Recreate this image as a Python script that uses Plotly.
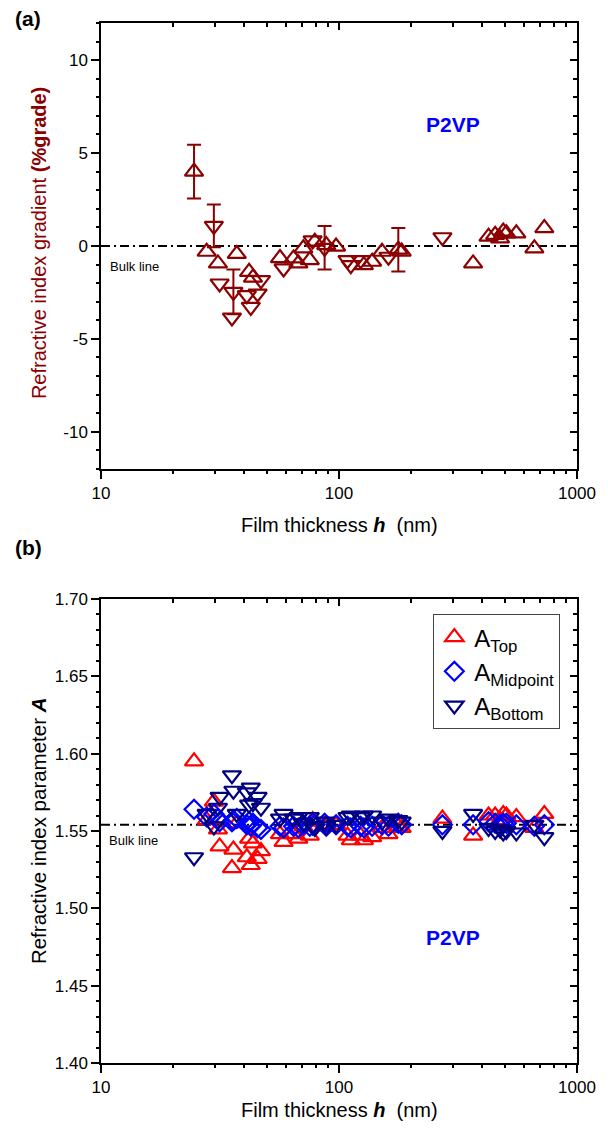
import plotly.graph_objects as go

# ---------------- data ----------------
# Panel (a): refractive index gradient (%grade) vs film thickness h (nm)
h_up = [24.6, 27.8, 31.0, 37.2, 41.9, 43.5, 56.5, 64.4, 67.5, 70.8, 75.4, 79.1, 88.4, 97.2,
        127.2, 137.8, 151.6, 177.5, 183.4, 366, 425, 453, 475, 490, 505, 556, 662, 729]
g_up = [4.0, -0.31, -0.94, -0.43, -1.39, -1.7, -0.65, -0.67, -0.94, -0.13, -0.76, 0.23, 0.05, -0.03,
        -1.03, -0.85, -0.31, -0.2, -0.3, -0.94, 0.5, 0.6, 0.41, 0.77, 0.68, 0.68, -0.13, 0.96]
e_up = [1.45, 0, 0, 0, 0, 0, 0, 0, 0, 0, 0, 0, 0, 0,
        0, 0, 0, 1.17, 0, 0, 0, 0, 0, 0, 0, 0, 0, 0]

h_dn = [29.8, 31.5, 35.5, 36.0, 41.0, 42.6, 45.5, 47.0, 58.5, 77.5, 87.0, 108.6, 112.1, 123.3, 161.4, 272]
g_dn = [1.08, -2.02, -3.85, -2.47, -2.65, -3.28, -2.56, -1.84, -1.21, 0.3, -0.1, -0.76, -1.03, -0.76, -0.58, 0.47]
e_dn = [1.15, 0, 0, 1.2, 0, 0, 0, 0, 0, 0, 1.17, 0, 0, 0, 0, 0]

bulk_grad = 0.0

# Panel (b): refractive index parameter A
h_all = [24.6, 27.8, 29.8, 31.0, 31.5, 35.5, 36.0, 37.2, 41.0, 41.9, 42.6, 43.5, 45.5, 47.0,
         56.5, 58.5, 64.4, 67.5, 70.8, 75.4, 77.5, 79.1, 87.0, 88.4, 97.2, 108.6, 112.1, 123.3,
         127.2, 137.8, 151.6, 161.4, 177.5, 183.4, 272, 366, 425, 453, 475, 490, 505, 556, 662, 729]
A_top = [1.595, 1.557, 1.569, 1.551, 1.540, 1.526, 1.538, 1.555, 1.533, 1.545, 1.528, 1.542, 1.532, 1.537,
         1.548, 1.543, 1.548, 1.545, 1.553, 1.547, 1.557, 1.556, 1.554, 1.553, 1.554, 1.547, 1.544, 1.547,
         1.544, 1.546, 1.552, 1.548, 1.553, 1.552, 1.558, 1.547, 1.560, 1.560, 1.557, 1.561, 1.560, 1.559,
         1.552, 1.561]
A_mid = [1.564, 1.559, 1.561, 1.558, 1.556, 1.556, 1.557, 1.558, 1.554, 1.556, 1.553, 1.555, 1.552, 1.551,
         1.553, 1.552, 1.553, 1.552, 1.554, 1.553, 1.555, 1.554, 1.555, 1.553, 1.554, 1.553, 1.552, 1.553,
         1.552, 1.553, 1.554, 1.553, 1.555, 1.554, 1.554, 1.554, 1.556, 1.555, 1.554, 1.555, 1.555, 1.554,
         1.553, 1.554]
A_bot = [1.533, 1.561, 1.553, 1.565, 1.572, 1.586, 1.576, 1.561, 1.575, 1.567, 1.578, 1.568, 1.572, 1.565,
         1.558, 1.561, 1.558, 1.559, 1.555, 1.559, 1.553, 1.552, 1.556, 1.553, 1.554, 1.559, 1.560, 1.559,
         1.560, 1.560, 1.556, 1.558, 1.557, 1.556, 1.550, 1.561, 1.552, 1.550, 1.551, 1.549, 1.550, 1.549,
         1.554, 1.546]

bulk_A = 1.554

# axis ticks
x_range_nm = [10, 1000]
x_ticks = [10, 100, 1000]
x_ticktext = ["10", "100", "1000"]
x_minor = [20, 30, 40, 50, 60, 70, 80, 90, 200, 300, 400, 500, 600, 700, 800, 900]
ya_range = [-12, 12]
ya_ticks = [-10, -5, 0, 5, 10]
ya_ticktext = ["-10", "-5", "0", "5", "10"]
ya_minor = [-12, -11, -9, -8, -7, -6, -4, -3, -2, -1, 1, 2, 3, 4, 6, 7, 8, 9, 11, 12]
yb_range = [1.40, 1.70]
yb_ticks = [1.40, 1.45, 1.50, 1.55, 1.60, 1.65, 1.70]
yb_ticktext = ["1.40", "1.45", "1.50", "1.55", "1.60", "1.65", "1.70"]
yb_minor = [1.41, 1.42, 1.43, 1.44, 1.46, 1.47, 1.48, 1.49, 1.51, 1.52, 1.53, 1.54,
            1.56, 1.57, 1.58, 1.59, 1.61, 1.62, 1.63, 1.64, 1.66, 1.67, 1.68, 1.69]

# ---------------- style ----------------
DARKRED = "#8B0000"
RED = "#FF0000"
BLUE = "#0000FF"
NAVY = "#000080"
FONT = "Arial, Liberation Sans, sans-serif"
MS = 16

fig = go.Figure()


def add_grad(hs, gs, es, symbol):
    hn = [h for h, e in zip(hs, es) if e == 0]
    gn = [g for g, e in zip(gs, es) if e == 0]
    he = [h for h, e in zip(hs, es) if e > 0]
    ge = [g for g, e in zip(gs, es) if e > 0]
    ee = [e for e in es if e > 0]
    mk = dict(symbol=symbol, size=MS, color=DARKRED, line=dict(color=DARKRED, width=2.2))
    fig.add_trace(go.Scatter(x=hn, y=gn, mode="markers", xaxis="x", yaxis="y", showlegend=False, marker=mk))
    fig.add_trace(go.Scatter(x=he, y=ge, mode="markers", xaxis="x", yaxis="y", showlegend=False, marker=mk,
                             error_y=dict(type="data", array=ee, visible=True, color=DARKRED,
                                          thickness=2, width=7)))


DASH = "9px,4px,2px,4px"
# bulk line (a)
fig.add_trace(go.Scatter(x=x_range_nm, y=[bulk_grad, bulk_grad], mode="lines", xaxis="x", yaxis="y",
                         showlegend=False, line=dict(color="black", width=2, dash=DASH)))
add_grad(h_up, g_up, e_up, "triangle-up-open")
add_grad(h_dn, g_dn, e_dn, "triangle-down-open")

# bulk line (b)
fig.add_trace(go.Scatter(x=x_range_nm, y=[bulk_A, bulk_A], mode="lines", xaxis="x2", yaxis="y2",
                         showlegend=False, line=dict(color="black", width=2, dash=DASH)))
fig.add_trace(go.Scatter(x=h_all, y=A_top, mode="markers", xaxis="x2", yaxis="y2", name="A<sub>Top</sub>",
                         marker=dict(symbol="triangle-up-open", size=MS, color=RED, line=dict(width=2.2))))
fig.add_trace(go.Scatter(x=h_all, y=A_mid, mode="markers", xaxis="x2", yaxis="y2", name="A<sub>Midpoint</sub>",
                         marker=dict(symbol="diamond-open", size=14.5, color=BLUE, line=dict(width=2.2))))
fig.add_trace(go.Scatter(x=h_all, y=A_bot, mode="markers", xaxis="x2", yaxis="y2", name="A<sub>Bottom</sub>",
                         marker=dict(symbol="triangle-down-open", size=MS, color=NAVY, line=dict(width=2.2))))

# dummy traces so the overlay (tick-only) axes are drawn
for k in range(3, 9):
    fig.add_trace(go.Scatter(x=[], y=[], xaxis="x%d" % k, yaxis="y%d" % k, showlegend=False,
                             hoverinfo="skip"))

tickfont = dict(family=FONT, size=17, color="black")
base = dict(showgrid=False, zeroline=False, linecolor="black", linewidth=1.5,
            tickcolor="black", tickwidth=1.5, tickfont=tickfont, tickmode="array")


def xax(over=None, anchor="y", side="bottom", vals=x_ticks, ticks="outside", ln=8, line=True, labels=False,
        domain=None):
    d = dict(base, type="log", range=[1, 3], tickvals=vals, ticks=ticks, ticklen=ln, showline=line,
             showticklabels=labels, side=side, anchor=anchor)
    if labels:
        d["ticktext"] = x_ticktext
    if over:
        d["overlaying"] = over
    if domain:
        d["domain"] = domain
    return d


def yax(rng, vals, text=None, over=None, anchor="x", side="left", ticks="outside", ln=8, line=True,
        domain=None):
    d = dict(base, range=rng, tickvals=vals, ticks=ticks, ticklen=ln, showline=line,
             showticklabels=text is not None, side=side, anchor=anchor)
    if text is not None:
        d["ticktext"] = text
    if over:
        d["overlaying"] = over
    if domain:
        d["domain"] = domain
    return d


ya_dom = [0.5712, 1.0]
yb_dom = [0.0, 0.4462]

fig.update_layout(
    width=608, height=1141,
    margin=dict(l=101, r=23, t=23, b=78),
    paper_bgcolor="white", plot_bgcolor="white",
    font=dict(family=FONT, color="black"),
    # panel (a)
    xaxis=xax(anchor="y", labels=True, domain=[0, 1]),
    yaxis=yax(ya_range, ya_ticks, ya_ticktext, anchor="x", domain=ya_dom),
    xaxis3=xax(over="x", anchor="y", side="top", ticks="inside", ln=7),
    yaxis3=yax(ya_range, ya_ticks, over="y", anchor="x", side="right", ticks="inside", ln=7),
    xaxis5=xax(over="x", anchor="y", vals=x_minor, ticks="outside", ln=4, line=False),
    yaxis5=yax(ya_range, ya_minor, over="y", anchor="x", ticks="outside", ln=4, line=False),
    xaxis7=xax(over="x", anchor="y", side="top", vals=x_minor, ticks="inside", ln=4, line=False),
    yaxis7=yax(ya_range, ya_minor, over="y", anchor="x", side="right", ticks="inside", ln=4, line=False),
    # panel (b)
    xaxis2=xax(anchor="y2", labels=True, domain=[0, 1]),
    yaxis2=yax(yb_range, yb_ticks, yb_ticktext, anchor="x2", domain=yb_dom),
    xaxis4=xax(over="x2", anchor="y2", side="top", ticks="inside", ln=7),
    yaxis4=yax(yb_range, yb_ticks, over="y2", anchor="x2", side="right", ticks="inside", ln=7),
    xaxis6=xax(over="x2", anchor="y2", vals=x_minor, ticks="outside", ln=4, line=False),
    yaxis6=yax(yb_range, yb_minor, over="y2", anchor="x2", ticks="outside", ln=4, line=False),
    xaxis8=xax(over="x2", anchor="y2", side="top", vals=x_minor, ticks="inside", ln=4, line=False),
    yaxis8=yax(yb_range, yb_minor, over="y2", anchor="x2", side="right", ticks="inside", ln=4, line=False),
    legend=dict(x=0.965, y=0.4317, xanchor="right", yanchor="top", bgcolor="white",
                bordercolor="#444", borderwidth=1, font=dict(family=FONT, size=24, color="black")),
)

ann = []


def txt(x, y, s, size, color="black", xanchor="center", angle=0):
    ann.append(dict(x=x, y=y, xref="paper", yref="paper", text=s, showarrow=False, textangle=angle,
                    xanchor=xanchor, yanchor="middle", font=dict(family=FONT, size=size, color=color)))


txt(-0.153, 1.0048, "<b>(a)</b>", 21)
txt(-0.153, 0.4952, "<b>(b)</b>", 21)
txt(-0.130, 0.7885, "Refractive index gradient <b>(%grade)</b>", 20, DARKRED, angle=-90)
txt(-0.130, 0.2231, "Refractive index parameter <b><i>A</i></b>", 20.5, "black", angle=-90)
txt(0.5, 0.5173, "Film thickness <b><i>h</i></b>  (nm)", 20)
txt(0.5, -0.0452, "Film thickness <b><i>h</i></b>  (nm)", 20)
txt(0.74, 0.902, "<b>P2VP</b>", 21, BLUE)
txt(0.74, 0.121, "<b>P2VP</b>", 21, BLUE)
txt(0.0145, 0.7654, "Bulk line", 13, xanchor="left")
txt(0.0125, 0.2144, "Bulk line", 13, xanchor="left")
fig.update_layout(annotations=ann)

fig.write_html("out.html")
